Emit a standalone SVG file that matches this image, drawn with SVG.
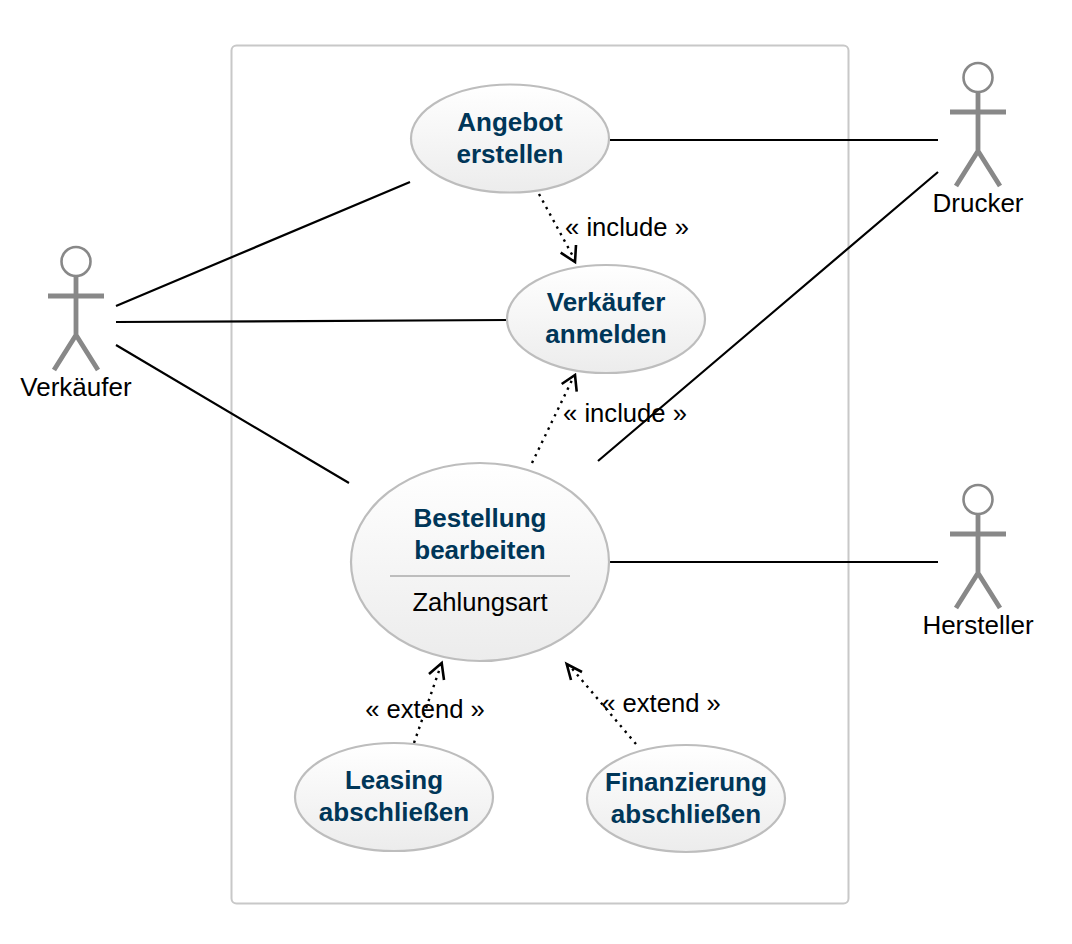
<svg xmlns="http://www.w3.org/2000/svg" width="1072" height="944" viewBox="0 0 1072 944">
<style>
text{font-family:"Liberation Sans",Arial,sans-serif;font-size:26px;text-anchor:middle;fill:#000}
.t{font-weight:bold;fill:#003658}
.l{font-size:25.6px}
.uc{fill:url(#g);stroke:#bdbdbd;stroke-width:2.2}
.a{fill:none;stroke:#888;stroke-width:4.8}
.h{fill:#fff;stroke:#888;stroke-width:2.6}
.c{fill:none;stroke:#000;stroke-width:2.2}
.d{fill:none;stroke:#000;stroke-width:2.4;stroke-dasharray:2.4 5}
.ah{fill:none;stroke:#000;stroke-width:2.6}
</style>
<defs>
<linearGradient id="g" x1="0" y1="0" x2="0" y2="1"><stop offset="0" stop-color="#fff"/><stop offset="1" stop-color="#ececec"/></linearGradient>
<g id="actor">
<circle class="h" cx="0" cy="14.500" r="14.500"/>
<path class="a" d="M0 29V88M-28 49H28M0 88L-22 123M0 88L22 123"/>
</g>
</defs>
<rect id="boundary" x="231.500" y="45.500" width="617" height="858" rx="5" fill="#fff" stroke="#c8c8c8" stroke-width="2"/>
<g id="connectors">
<path class="c" d="M116 306L410 182M116 322L507 320M116 345L349 483M610 140H938M598 461L938 172M610 562H938"/>
<path class="d" d="M539 194L575 260M532 463L574 376M414 743L441 665M636 744L569 665"/>
<path class="ah" d="M560.700 252.700L575 262L576 245M561.700 384L575 375L576.700 391.700M429 674L441.700 663L444 680M571 680L566.700 664L582 672"/>
</g>
<g id="angebot"><ellipse class="uc" cx="510" cy="138.500" rx="99" ry="54"/><text class="t" x="510" y="131">Angebot</text><text class="t" x="510" y="163">erstellen</text></g>
<g id="anmelden"><ellipse class="uc" cx="606" cy="319" rx="99" ry="54"/><text class="t" x="606" y="311">Verkäufer</text><text class="t" x="606" y="343">anmelden</text></g>
<g id="bestellung"><ellipse class="uc" cx="480" cy="562" rx="129" ry="99"/><path d="M390 576H570" stroke="#bdbdbd" stroke-width="2.200"/><text class="t" x="480" y="527">Bestellung</text><text class="t" x="480" y="559">bearbeiten</text><text class="l" x="480" y="611">Zahlungsart</text></g>
<g id="leasing"><ellipse class="uc" cx="394" cy="797" rx="99" ry="54"/><text class="t" x="394" y="789">Leasing</text><text class="t" x="394" y="821">abschließen</text></g>
<g id="finanzierung"><ellipse class="uc" cx="686" cy="798.500" rx="99" ry="53.500"/><text class="t" x="686" y="791">Finanzierung</text><text class="t" x="686" y="823">abschließen</text></g>
<g id="verkaeufer"><use href="#actor" x="76" y="247"/><text x="76" y="396">Verkäufer</text></g>
<g id="drucker"><use href="#actor" x="978" y="63"/><text x="978" y="212">Drucker</text></g>
<g id="hersteller"><use href="#actor" x="978" y="485"/><text x="978" y="634">Hersteller</text></g>
<g id="labels">
<text class="l" x="627" y="236">« include »</text>
<text class="l" x="625" y="422">« include »</text>
<text class="l" x="425" y="718">« extend »</text>
<text class="l" x="661" y="712">« extend »</text>
</g>
</svg>
